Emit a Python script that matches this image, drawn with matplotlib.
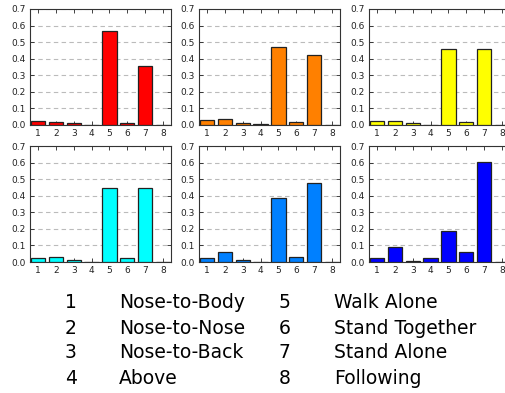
import matplotlib
matplotlib.use("Agg")
import matplotlib.pyplot as plt
import numpy as np

# behaviour index 1..8
behaviours = [1, 2, 3, 4, 5, 6, 7, 8]
behaviour_names = ["Nose-to-Body", "Nose-to-Nose", "Nose-to-Back", "Above",
                   "Walk Alone", "Stand Together", "Stand Alone", "Following"]

# fraction of time per behaviour, one list per panel
red_vals = [0.025, 0.020, 0.012, 0.003, 0.565, 0.015, 0.355, 0.003]
orange_vals = [0.030, 0.035, 0.012, 0.005, 0.470, 0.020, 0.420, 0.003]
yellow_vals = [0.022, 0.025, 0.012, 0.003, 0.460, 0.018, 0.458, 0.001]
cyan_vals = [0.025, 0.030, 0.012, 0.000, 0.445, 0.025, 0.448, 0.000]
azure_vals = [0.025, 0.060, 0.010, 0.003, 0.385, 0.030, 0.477, 0.000]
blue_vals = [0.022, 0.088, 0.007, 0.027, 0.187, 0.063, 0.605, 0.000]

panel_vals = [red_vals, orange_vals, yellow_vals, cyan_vals, azure_vals, blue_vals]
panel_colors = ['#ff0000', '#ff8000', '#ffff00', '#00ffff', '#0080ff', '#0000ff']

fig = plt.figure(figsize=(5.05, 3.93), dpi=100)

lefts = [30 / 505., 199 / 505., 369 / 505.]
bottoms = [1 - 125 / 393., 1 - 262 / 393.]
w = 141 / 505.
h = 116 / 393.

for k in range(6):
    row, col = k // 3, k % 3
    ax = fig.add_axes([lefts[col], bottoms[row], w, h])
    ax.bar(behaviours, panel_vals[k], width=0.8, color=panel_colors[k],
           edgecolor='#222222', linewidth=0.9, zorder=3)
    ax.set_xlim(0.55, 8.45)
    ax.set_ylim(0, 0.7)
    ax.set_xticks(behaviours)
    ax.set_yticks(np.arange(0, 0.71, 0.1))
    ax.set_yticklabels(["%.1f" % v for v in np.arange(0, 0.71, 0.1)])
    ax.yaxis.grid(True, linestyle=(0, (4, 3)), color='#bbbbbb', linewidth=0.8)
    ax.tick_params(direction='in', length=3, width=0.6, labelsize=6.5,
                   top=True, right=True, pad=3, colors='#222222')
    for sp in ax.spines.values():
        sp.set_color('#333333')
        sp.set_linewidth(0.8)

# legend of behaviour codes
row_y = [303, 328, 353, 378]
for i in range(4):
    y = 1 - row_y[i] / 393.
    fig.text(65 / 505., y, str(behaviours[i]), fontsize=13.5, va='center')
    fig.text(119 / 505., y, behaviour_names[i], fontsize=13.5, va='center')
    fig.text(279 / 505., y, str(behaviours[i + 4]), fontsize=13.5, va='center')
    fig.text(334 / 505., y, behaviour_names[i + 4], fontsize=13.5, va='center')

fig.savefig("out.png", dpi=100)
